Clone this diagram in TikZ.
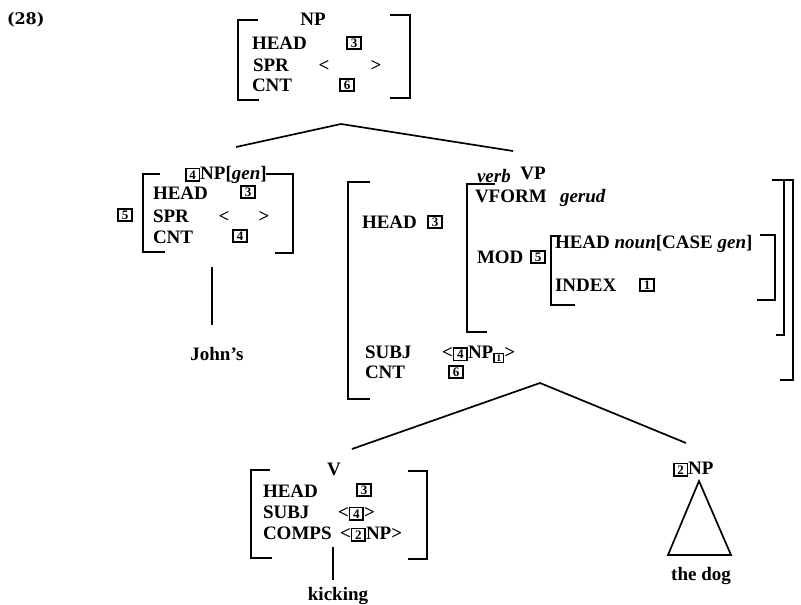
\documentclass[tikz,border=0pt]{standalone}
\usepackage{fontspec}
\setmainfont{Liberation Serif}
\newfontfamily\exnumfont{DejaVu Serif}
\newcommand{\tagbx}[1]{{\fboxsep=1pt\fboxrule=1.6pt\fbox{\makebox[10pt]{\fontsize{13}{13}\selectfont\bfseries #1}}}}
\newcommand{\subtagbx}[1]{\raisebox{-3pt}{\fboxsep=0.6pt\fboxrule=1.2pt\fbox{\makebox[7.5pt]{\fontsize{10}{10}\selectfont\bfseries #1}}}}
\newcommand{\LBrk}[5]{\draw[brk] ({#1+#4},#2) -- (#1,#2) -- (#1,#3) -- ({#1+#5},#3);}
\newcommand{\RBrk}[5]{\draw[brk] ({#1-#4},#2) -- (#1,#2) -- (#1,#3) -- ({#1-#5},#3);}
\tikzset{
  every node/.style={inner sep=0pt, outer sep=0pt, font=\fontsize{19}{19}\selectfont\bfseries},
  txt/.style={anchor=base west},
  mid/.style={anchor=base},
  tagn/.style={anchor=center},
  brk/.style={line width=1.8pt},
  edge/.style={line width=1.7pt},
}
\begin{document}
\begin{tikzpicture}[x=1pt,y=-1pt]
\useasboundingbox (0,0) rectangle (801,605);
\fill[white] (0,0) rectangle (801,605);

\node[anchor=west, font=\exnumfont\bfseries\fontsize{16}{16}\selectfont] (exnum) at (7,20) {(28)};

% ---- top NP
\node[mid] (np0) at (313,25.5) {NP};
\node[txt] (np0h) at (252,49.5) {HEAD};
\node[tagn] (np0ht) at (354,43) {\tagbx{3}};
\node[txt] (np0s) at (253,71.5) {SPR};
\node[mid] (np0sl) at (324,71.5) {<};
\node[mid] (np0sr) at (376,71.5) {>};
\node[txt] (np0c) at (252,91.5) {CNT};
\node[tagn] (np0ct) at (347,85) {\tagbx{6}};
\LBrk{238}{20}{100}{20}{21}
\RBrk{410}{15}{98}{20}{20}

\coordinate (np0-foot) at (341,124);
\coordinate (lnp-top) at (236,147);
\coordinate (vp-top) at (513,151);
\draw[edge] (lnp-top) -- (np0-foot) -- (vp-top);

% ---- left NP
\node[txt] (lnp) at (185,179) {\tagbx{4}NP[\textit{gen}]};
\LBrk{143}{174}{252}{17}{22}
\RBrk{293}{174}{253}{27}{18}
\node[txt] (lnph) at (153,199) {HEAD};
\node[tagn] (lnpht) at (248,192) {\tagbx{3}};
\node[txt] (lnps) at (153,222) {SPR};
\node[mid] (lnpsl) at (224,222) {<};
\node[mid] (lnpsr) at (264,222) {>};
\node[txt] (lnpc) at (153,243) {CNT};
\node[tagn] (lnpct) at (240,236) {\tagbx{4}};
\node[tagn] (lnptag) at (125,215) {\tagbx{5}};
\coordinate (lnp-foot) at (212,267);
\node[mid] (johns) at (217,360) {John's};
\draw[edge] (lnp-foot) -- ([yshift=22pt]johns.north -| lnp-foot);

% ---- VP
\node[mid] (vp) at (533,179.5) {VP};
\LBrk{348}{182}{399}{22}{22}
\RBrk{793}{180}{380}{12}{13}
\LBrk{467}{184}{332}{28}{20}
\RBrk{784}{180}{335}{12}{8}
\node[txt] (vpverb) at (477,182) {\textit{verb}};
\node[txt] (vpvf) at (475,202) {VFORM};
\node[txt] (vpger) at (560,202) {\textit{gerud}};
\node[txt] (vph) at (362,228.5) {HEAD};
\node[tagn] (vpht) at (435,222) {\tagbx{3}};
\node[txt] (vpmod) at (477,263.5) {MOD};
\node[tagn] (vpmodt) at (538,257) {\tagbx{5}};
\LBrk{551}{236}{305}{10}{24}
\RBrk{775}{235}{300}{15}{18}
\node[txt] (modh) at (555,248.5) {HEAD \textit{noun}[CASE \textit{gen}]};
\node[txt] (modi) at (555,291.5) {INDEX};
\node[tagn] (modit) at (647,285) {\tagbx{1}};
\node[txt] (vps) at (365,358.5) {SUBJ};
\node[txt] (vpsv) at (442,358.5) {<\tagbx{4}NP\subtagbx{1}>};
\node[txt] (vpc) at (365,378.5) {CNT};
\node[tagn] (vpct) at (456,372) {\tagbx{6}};

\coordinate (vp-foot) at (540,383);
\coordinate (v-top) at (352,449);
\coordinate (np2-top) at (686,443);
\draw[edge] (v-top) -- (vp-foot) -- (np2-top);

% ---- V
\node[mid] (v) at (334,475) {V};
\LBrk{251}{470}{558}{19}{21}
\RBrk{427}{471}{559}{19}{19}
\node[txt] (vh) at (263,497) {HEAD};
\node[tagn] (vht) at (364,490) {\tagbx{3}};
\node[txt] (vs) at (263,518) {SUBJ};
\node[txt] (vsv) at (338,518) {<\tagbx{4}>};
\node[txt] (vc) at (263,539) {COMPS};
\node[txt] (vcv) at (340,539) {<\tagbx{2}NP>};
\coordinate (v-foot) at (333,547);
\node[mid] (kick) at (338,600) {kicking};
\draw[edge] (v-foot) -- ([yshift=7pt]kick.north -| v-foot);

% ---- NP the dog
\node[txt] (np2) at (673,474) {\tagbx{2}NP};
\coordinate (tri-a) at (699,481);
\coordinate (tri-l) at (668,555);
\coordinate (tri-r) at (731,555);
\draw[edge] (tri-a) -- (tri-l) -- (tri-r) -- cycle;
\node[mid] (thedog) at (701,580) {the dog};
\end{tikzpicture}
\end{document}
